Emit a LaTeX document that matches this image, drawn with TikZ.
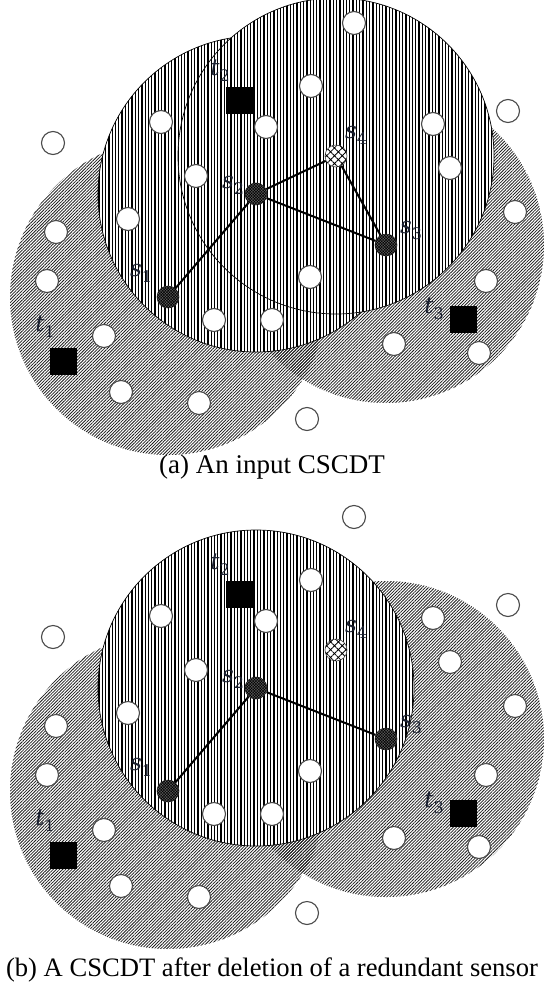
\documentclass[tikz,border=0pt]{standalone}
\usepackage{fontspec}
\setmainfont{Liberation Serif}
\newfontfamily\tagfont{DejaVu Serif}
\usepackage{tikz}
\usetikzlibrary{patterns.meta}
\definecolor{hatch}{HTML}{1E1E1E}
\definecolor{ring}{HTML}{4A4A4A}
\definecolor{sensorgray}{HTML}{5C5C5C}
\definecolor{tagink}{HTML}{1A2030}
\newcommand\lab[2]{{\itshape #1}\raisebox{-6pt}{\fontsize{16}{16}\selectfont #2}}
\tikzset{
  diagzone/.style={pattern={Lines[angle=45, distance=2.2pt, line width=0.8pt]}, pattern color=hatch},
  vertzone/.style={preaction={fill=white}, pattern={Lines[angle=90, distance=3.3pt, line width=1.3pt]}, pattern color=black, draw=black, line width=0.7pt},
  idle/.style={circle, draw=ring, line width=1.1pt, fill=white, minimum size=23pt, inner sep=0pt},
  sensor/.style={circle, draw=black!80, line width=0.6pt, fill=sensorgray, postaction={pattern={Hatch[angle=45, distance=2pt, line width=0.5pt]}}, minimum size=22pt, inner sep=0pt},
  spare/.style={circle, draw=ring, line width=0.6pt, fill=white, postaction={pattern={Hatch[angle=45, distance=5.5pt, line width=0.8pt]}}, minimum size=22pt, inner sep=0pt},
  target/.style={rectangle, fill=black, minimum size=27pt, inner sep=0pt},
  tag/.style={inner sep=0pt, text=tagink, font=\tagfont\fontsize{23}{25}\selectfont},
  caption/.style={anchor=base, font=\fontsize{27}{32}\selectfont},
  link/.style={draw=black, line width=2pt}
}
\newcommand\fieldnodes{%
  \node[idle] (n1) at (53,143) {};
  \node[idle] (n2) at (161,122) {};
  \node[idle] (n3) at (196,176) {};
  \node[idle] (n4) at (128,219) {};
  \node[idle] (n5) at (56,232) {};
  \node[idle] (n6) at (47,281) {};
  \node[idle] (n7) at (104,336) {};
  \node[idle] (n8) at (214,320) {};
  \node[idle] (n9) at (272,320) {};
  \node[idle] (n10) at (121,392) {};
  \node[idle] (n11) at (199,403) {};
  \node[idle] (n12) at (266,127) {};
  \node[idle] (n13) at (354,23) {};
  \node[idle] (n14) at (311,86) {};
  \node[idle] (n15) at (433,124) {};
  \node[idle] (n16) at (450,168) {};
  \node[idle] (n17) at (508,111) {};
  \node[idle] (n18) at (515,212) {};
  \node[idle] (n19) at (310,277) {};
  \node[idle] (n20) at (486,281) {};
  \node[idle] (n21) at (394,344) {};
  \node[idle] (n22) at (479,353) {};
  \node[idle] (n23) at (307,419) {};
  \node[target] (t1) at (63,361) {};
  \node[target] (t2) at (239,100) {};
  \node[target] (t3) at (463,319) {};
  \node[sensor] (s1) at (p1) {};
  \node[sensor] (s2) at (p2) {};
  \node[sensor] (s3) at (p3) {};
  \node[spare] (s4) at (p4) {};
  \node[tag] (ls1) at (141,273) {\lab{s}{1}};
  \node[tag] (ls2) at (233,185) {\lab{s}{2}};
  \node[tag] (ls3) at (411,230) {\lab{s}{3}};
  \node[tag] (ls4) at (356,135) {\lab{s}{4}};
  \node[tag] (lt1) at (45,327) {\lab{t}{1}};
  \node[tag] (lt2) at (220,71) {\lab{t}{2}};
  \node[tag] (lt3) at (434,309) {\lab{t}{3}};
}

\begin{document}
\begin{tikzpicture}[x=1pt, y=-1pt]
  \useasboundingbox (0,0) rectangle (544,988);

  \begin{scope}[name prefix=a-]
    \coordinate (p1) at (168,297);
    \coordinate (p2) at (256,194);
    \coordinate (p3) at (386,245);
    \coordinate (p4) at (336,156);
    \fill[diagzone] (p1) circle (158);
    \fill[diagzone] (p3) circle (158);
    \filldraw[vertzone] (p2) circle (158);
    \filldraw[vertzone] (p4) circle (158);
    \fieldnodes
    \draw[link] (s1) -- (s2);
    \draw[link] (s2) -- (s4);
    \draw[link] (s2) -- (s3);
    \draw[link] (s4) -- (s3);
    \node[caption] (cap) at (272,473) {(a) An input CSCDT};
  \end{scope}

  \begin{scope}[name prefix=b-, yshift=-494pt]
    \coordinate (p1) at (168,297);
    \coordinate (p2) at (256,194);
    \coordinate (p3) at (386,245);
    \coordinate (p4) at (336,156);
    \fill[diagzone] (p1) circle (158);
    \fill[diagzone] (p3) circle (158);
    \filldraw[vertzone] (p2) circle (158);
    \fieldnodes
    \draw[link] (s1) -- (s2);
    \draw[link] (s2) -- (s3);
    \node[caption, font=\fontsize{26.6}{32}\selectfont] (cap) at (272,482) {(b) A CSCDT after deletion of a redundant sensor};
  \end{scope}
\end{tikzpicture}
\end{document}
